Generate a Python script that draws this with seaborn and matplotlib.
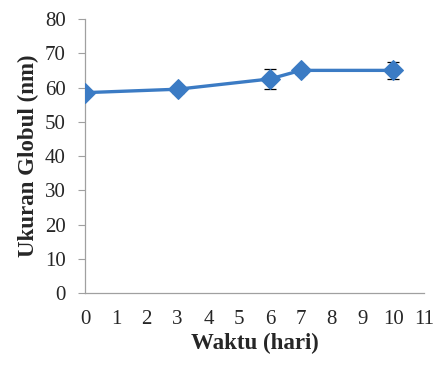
import numpy as np
import pandas as pd
import matplotlib
matplotlib.use('Agg')
import matplotlib.pyplot as plt
import seaborn as sns

# data
waktu = [0, 3, 6, 7, 10]
ukuran = [58.5, 59.5, 62.5, 65.0, 65.0]
sd = [0.8, 1.0, 3.0, 1.0, 2.5]
x_ticks = list(range(0, 12))
y_ticks = list(range(0, 90, 10))

df = pd.DataFrame({'Waktu': waktu, 'Ukuran': ukuran, 'sd': sd})

sns.set_style('white')
plt.rcParams['font.family'] = ['Liberation Serif', 'DejaVu Serif']

blue = '#3B7BC4'
fig = plt.figure(figsize=(4.39, 3.65), dpi=100)
ax = fig.add_axes([0.194, 0.197, 0.772, 0.751])

ax.errorbar(df['Waktu'], df['Ukuran'], yerr=df['sd'], fmt='none',
            ecolor='black', elinewidth=0.9, capsize=4, capthick=0.9, zorder=2)
sns.lineplot(data=df, x='Waktu', y='Ukuran', ax=ax, color=blue, linewidth=2.4,
             marker='D', markersize=10.5, markeredgecolor=blue, zorder=3)

ax.set_xlim(0, 11)
ax.set_ylim(0, 80)
ax.set_xticks(x_ticks)
ax.set_yticks(y_ticks)
ax.tick_params(axis='x', length=0, labelsize=15, pad=12)
ax.tick_params(axis='y', length=5, width=0.8, color='#a0a0a0', direction='out',
               labelsize=15, pad=9, left=True)

for s in ['top', 'right']:
    ax.spines[s].set_visible(False)
for s in ['left', 'bottom']:
    ax.spines[s].set_color('#a0a0a0')
    ax.spines[s].set_linewidth(0.9)

ax.set_xlabel('Waktu (hari)', fontsize=16.5, fontweight='bold', labelpad=3)
ax.set_ylabel('Ukuran Globul (nm)', fontsize=16.5, fontweight='bold', labelpad=4)

fig.savefig('out.png', dpi=100)
